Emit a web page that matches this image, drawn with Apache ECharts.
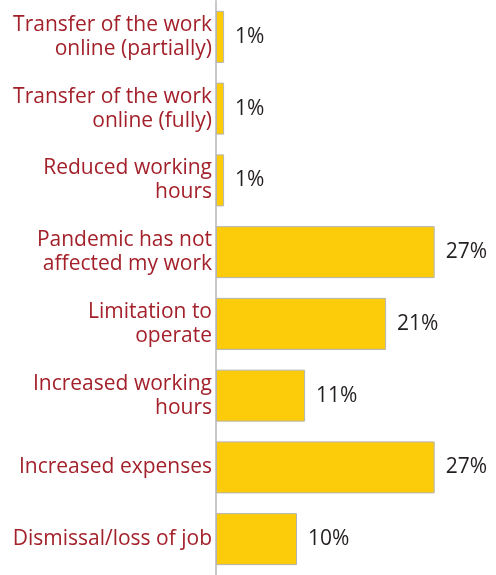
<!DOCTYPE html>
<html>
<head>
<meta charset="utf-8">
<script src="https://cdn.jsdelivr.net/npm/echarts@6/dist/echarts.min.js"></script>
<style>
  html, body { margin: 0; padding: 0; background: #fff; }
  #chart { width: 496px; height: 575px; }
</style>
</head>
<body>
<div id="chart"></div>
<script>
// Effects of the pandemic on work (share of respondents, %)
const categories = [
  'Transfer of the work\nonline (partially)',
  'Transfer of the work\nonline (fully)',
  'Reduced working\nhours',
  'Pandemic has not\naffected my work',
  'Limitation to\noperate',
  'Increased working\nhours',
  'Increased expenses',
  'Dismissal/loss of job'
];
const shares = [1, 1, 1, 27, 21, 11, 27, 10];

const chart = echarts.init(document.getElementById('chart'), null, { renderer: 'canvas' });
chart.setOption({
  animation: false,
  grid: { left: 216, right: 37, top: 1, height: 578, containLabel: false },
  xAxis: {
    type: 'value', min: 0, max: 30, show: false
  },
  yAxis: {
    type: 'category',
    data: categories,
    inverse: true,
    axisLine: { show: true, lineStyle: { color: '#c8c8c8', width: 2 } },
    axisTick: { show: false },
    axisLabel: {
      color: '#a3212b',
      fontFamily: 'Open Sans',
      fontSize: 21,
      lineHeight: 24,
      margin: 4,
      align: 'right'
    }
  },
  series: [{
    type: 'bar',
    data: shares,
    barWidth: 52,
    itemStyle: { color: '#fccb0a', borderColor: '#b4b4b4', borderWidth: 1 },
    label: {
      show: true,
      position: 'right',
      distance: 11,
      formatter: '{c}%',
      color: '#231f20',
      fontFamily: 'Open Sans',
      fontSize: 21
    }
  }]
});
</script>
</body>
</html>
